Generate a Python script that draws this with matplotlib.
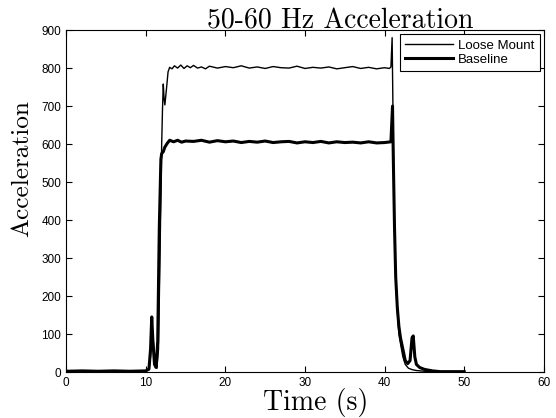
import matplotlib.pyplot as plt

# Loose Mount (thin line)
t_loose = [0, 2, 4, 6, 8, 10, 10.4, 10.6, 10.8, 11.0, 11.2, 11.4, 11.6, 11.8, 12.0, 12.1, 12.2, 12.3,
           12.4, 12.6, 12.8, 13.0, 13.3, 13.6, 14.0, 14.4, 14.8, 15.2, 15.6, 16.0, 16.5, 17.0, 17.5,
           18.0, 19.0, 20.0, 21.0, 22.0, 23.0, 24.0, 25.0, 26.0, 27.0, 28.0, 29.0, 30.0, 31.0, 32.0,
           33.0, 34.0, 35.0, 36.0, 37.0, 38.0, 39.0, 40.0, 40.6, 40.8, 40.95, 41.05, 41.2, 41.4,
           41.6, 41.8, 42.0, 42.3, 42.6, 43.0, 43.5, 44.0, 45.0, 47.0, 50.0]
a_loose = [2, 3, 2, 3, 2, 3, 5, 40, 120, 70, 15, 10, 60, 320, 600, 690, 758, 720,
           703, 745, 790, 802, 798, 806, 800, 808, 799, 806, 801, 807, 800, 803, 798,
           805, 800, 804, 801, 806, 800, 803, 799, 804, 801, 800, 805, 799, 802, 800,
           803, 798, 801, 804, 799, 802, 798, 801, 799, 803, 880, 700, 420, 250,
           160, 100, 75, 40, 20, 10, 6, 4, 2, 1, 1]

# Baseline (thick line)
t_base = [0, 2, 4, 6, 8, 10, 10.4, 10.6, 10.75, 10.9, 11.1, 11.3, 11.5, 11.7, 11.9, 12.0, 12.2,
          12.4, 12.7, 13.0, 13.5, 14.0, 14.5, 15.0, 16.0, 17.0, 18.0, 19.0, 20.0, 21.0, 22.0,
          23.0, 24.0, 25.0, 26.0, 27.0, 28.0, 29.0, 30.0, 31.0, 32.0, 33.0, 34.0, 35.0, 36.0,
          37.0, 38.0, 39.0, 40.0, 40.8, 41.0, 41.1, 41.25, 41.4, 41.6, 41.8, 42.0, 42.3, 42.6,
          42.9, 43.2, 43.45, 43.6, 43.8, 44.0, 44.4, 45.0, 46.0, 47.0, 50.0]
a_base = [2, 3, 2, 3, 2, 3, 8, 60, 145, 80, 20, 12, 80, 380, 560, 575, 580,
          592, 602, 610, 606, 610, 605, 608, 607, 610, 605, 609, 606, 608, 604,
          607, 605, 608, 604, 606, 607, 603, 606, 604, 607, 603, 606, 604, 605,
          603, 606, 603, 604, 606, 700, 560, 380, 250, 170, 120, 90, 60, 30,
          22, 30, 90, 95, 40, 20, 12, 7, 3, 1, 1]

fig = plt.figure(figsize=(5.56, 4.18), dpi=100)
ax = fig.add_axes([0.119, 0.110, 0.859, 0.818])

ax.plot(t_loose, a_loose, color='black', linewidth=1.0, label='Loose Mount')
ax.plot(t_base, a_base, color='black', linewidth=2.2, label='Baseline')

ax.set_xlim(0, 60)
ax.set_ylim(0, 900)
ax.set_xticks(range(0, 61, 10))
ax.set_yticks(range(0, 901, 100))
ax.tick_params(direction='in', top=True, right=True, labelsize=8.5, length=4)
for lbl in ax.get_xticklabels() + ax.get_yticklabels():
    lbl.set_family('Liberation Sans')

ax.set_title('50-60 Hz Acceleration', fontfamily='cmr10', fontsize=20, x=0.573, pad=1)
ax.set_xlabel('Time (s)', fontfamily='cmr10', fontsize=20, labelpad=0)
ax.xaxis.set_label_coords(0.523, -0.046, transform=ax.transAxes)
ax.xaxis.label.set_verticalalignment('top')
ax.set_ylabel('Acceleration', fontfamily='cmr10', fontsize=18.2)
ax.yaxis.set_label_coords(-0.069, 0.596)

leg = ax.legend(loc='upper right', prop={'family': 'Liberation Sans', 'size': 9.5},
                fancybox=False, edgecolor='black', framealpha=1,
                handlelength=3.6, handletextpad=0.4, borderaxespad=0.3, labelspacing=0.15)
leg.get_frame().set_linewidth(0.8)

fig.savefig('out.png', dpi=100)
